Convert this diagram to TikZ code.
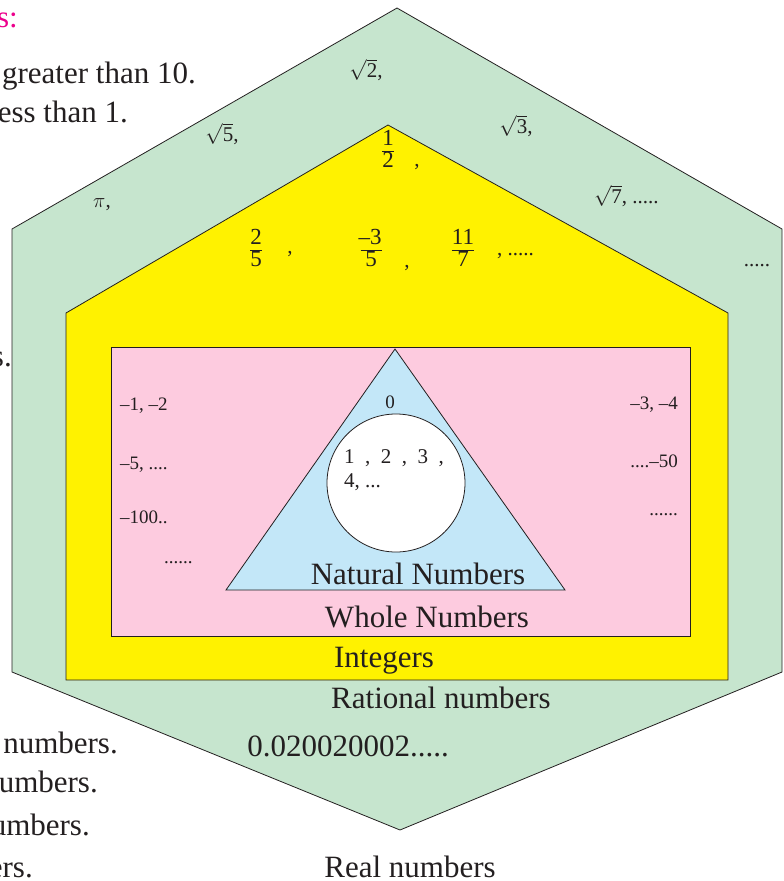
\documentclass[tikz,border=0pt]{standalone}
\usepackage{fontspec}
\setmainfont{Liberation Serif}
\definecolor{ink}{HTML}{231F20}
\definecolor{realg}{HTML}{C6E5CE}
\definecolor{ratY}{HTML}{FFF200}
\definecolor{intP}{HTML}{FDCBDF}
\definecolor{natB}{HTML}{C3E7F8}
\definecolor{mag}{HTML}{EC008C}
\newcommand{\fr}[2]{{\setlength{\arrayrulewidth}{1.1pt}\renewcommand{\arraystretch}{0.85}\begin{tabular}{@{}c@{}}#1\\[-1pt]\hline\rule{0pt}{16pt}#2\end{tabular}}}
\newcommand{\rt}[1]{$\sqrt{\mbox{#1}}$}
\begin{document}
\begin{tikzpicture}[x=1pt,y=-1pt,
  region/.style={draw=ink,line width=0.8pt},
  big/.style={text=ink,font=\fontsize{31}{34}\selectfont,inner sep=0pt},
  small/.style={text=ink,font=\fontsize{21}{23}\selectfont,inner sep=0pt},
  frac/.style={text=ink,font=\fontsize{23}{25}\selectfont,inner sep=0pt},
  tiny/.style={text=ink,font=\fontsize{19}{21}\selectfont,inner sep=0pt}]
\useasboundingbox (0,0) rectangle (784,881);
% regions
\path[region,fill=realg] (397,8) -- (782,229) -- (782,672) -- (400,830) -- (12,672) -- (12,229) -- cycle;
\path[region,fill=ratY] (388,125) -- (728,313) -- (728,680) -- (66,680) -- (66,313) -- cycle;
\path[region,fill=intP] (111,347) rectangle (690,636);
\path[region,fill=natB] (395,349) -- (565,590) -- (226,590) -- cycle;
\node[region,fill=white,circle,minimum size=138pt,inner sep=0pt] (nat) at (396,483) {};
% left cut-off text
\node[anchor=base east,text=mag,font=\fontsize{31}{34}\selectfont,inner sep=0pt] (t0) at (18,27) {s:};
\node[big,anchor=base east] (t1) at (196,83) {greater than 10.};
\node[big,anchor=base east] (t2) at (128,122) {ess than 1.};
\node[big,anchor=base east] (t3) at (12,366) {s.};
\node[big,anchor=base east] (t4) at (118,753) {numbers.};
\node[big,anchor=base east] (t5) at (98,792) {umbers.};
\node[big,anchor=base east] (t6) at (90,835) {umbers.};
\node[big,anchor=base east] (t7) at (33,877) {ers.};
% real numbers labels
\node[small] (r1) at (366,70) {\rt{2},};
\node[small] (r2) at (222,134) {\rt{5},};
\node[small] (r3) at (516,126) {\rt{3},};
\node[small,anchor=west] (r4) at (594,196) {\rt{7}, .....};
\node[small] (pi) at (102,205) {$\pi$,};
\node[small] (dots) at (757,266) {.....};
% rational labels
\node[frac] (q1) at (388,152) {\fr{1}{2}};
\node[small] (c1) at (417,167) {,};
\node[frac] (q2) at (256,251) {\fr{2}{5}};
\node[small] (c2) at (290,254) {,};
\node[frac] (q3) at (371,251) {\fr{\kern-2pt--3}{5}};
\node[small] (c3) at (407,268) {,};
\node[frac] (q4) at (463,251) {\fr{11}{7}};
\node[small,anchor=west] (c4) at (497,256) {, .....};
% integer labels
\node[tiny,anchor=base west] (i1) at (120,410) {--1, --2};
\node[tiny,anchor=base west] (i2) at (120,469) {--5, ....};
\node[tiny,anchor=base west] (i3) at (120,523) {--100..};
\node[tiny,anchor=base west] (i4) at (164,563) {......};
\node[tiny,anchor=base east] (i5) at (678,409) {--3, --4};
\node[tiny,anchor=base east] (i6) at (678,467) {....--50};
\node[tiny,anchor=base east] (i7) at (678,515) {......};
% whole / natural labels
\node[tiny] (w0) at (390,402) {0};
\node[small,anchor=base west] (n1) at (344,463) {1~~, ~2~~, ~3~~,};
\node[small,anchor=base west] (n2) at (344,487) {4, ...};
% region names
\node[big,anchor=base] (lnat) at (418,584) {Natural Numbers};
\node[big,anchor=base] (lwh) at (427,627) {Whole Numbers};
\node[big,anchor=base] (lint) at (384,667) {Integers};
\node[big,anchor=base] (lrat) at (441,708) {Rational numbers};
\node[big,anchor=base] (lirr) at (348,756) {0.020020002.....};
\node[big,anchor=base] (lreal) at (410,877) {Real numbers};
\end{tikzpicture}
\end{document}
